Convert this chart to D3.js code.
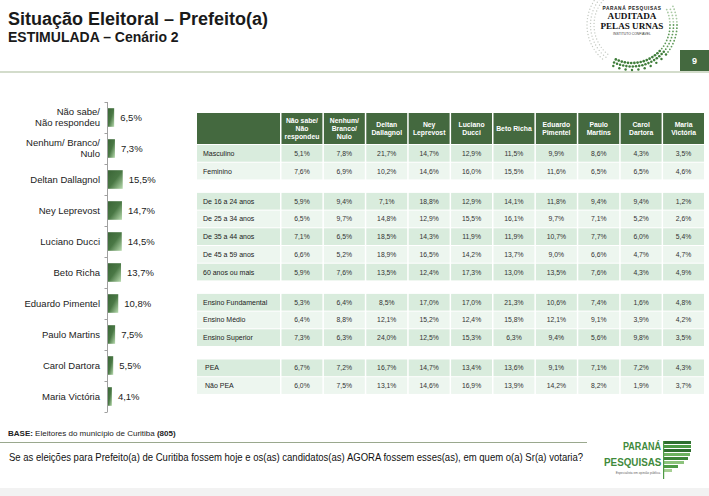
<!DOCTYPE html>
<html><head><meta charset="utf-8">
<script src="https://cdn.jsdelivr.net/npm/d3@7"></script>
<style>body{margin:0;background:#fff} svg{display:block;font-family:"Liberation Sans",Arial,sans-serif}</style>
</head><body><svg id="c" width="709" height="496"></svg>
<script>
// ---------- DATA ----------
const categories = ["Não sabe/\nNão respondeu","Nenhum/ Branco/\nNulo","Deltan Dallagnol","Ney Leprevost","Luciano Ducci","Beto Richa","Eduardo Pimentel","Paulo Martins","Carol Dartora","Maria Victória"];
const totals = [6.5,7.3,15.5,14.7,14.5,13.7,10.8,7.5,5.5,4.1];
const columns = ["Não sabe/\nNão\nrespondeu","Nenhum/\nBranco/\nNulo","Deltan\nDallagnol","Ney\nLeprevost","Luciano\nDucci","Beto Richa","Eduardo\nPimentel","Paulo\nMartins","Carol\nDartora","Maria\nVictória"];
const rowLabels = ["Masculino","Feminino","De 16 a 24 anos","De 25 a 34 anos","De 35 a 44 anos","De 45 a 59 anos","60 anos ou mais","Ensino Fundamental","Ensino Médio","Ensino Superior","PEA","Não PEA"];
const rowGroups = [0,0,1,1,1,1,1,2,2,2,3,3];
const rowValues = [
  [5.1,7.8,21.7,14.7,12.9,11.5,9.9,8.6,4.3,3.5],
  [7.6,6.9,10.2,14.6,16.0,15.5,11.6,6.5,6.5,4.6],
  [5.9,9.4,7.1,18.8,12.9,14.1,11.8,9.4,9.4,1.2],
  [6.5,9.7,14.8,12.9,15.5,16.1,9.7,7.1,5.2,2.6],
  [7.1,6.5,18.5,14.3,11.9,11.9,10.7,7.7,6.0,5.4],
  [6.6,5.2,18.9,16.5,14.2,13.7,9.0,6.6,4.7,4.7],
  [5.9,7.6,13.5,12.4,17.3,13.0,13.5,7.6,4.3,4.9],
  [5.3,6.4,8.5,17.0,17.0,21.3,10.6,7.4,1.6,4.8],
  [6.4,8.8,12.1,15.2,12.4,15.8,12.1,9.1,3.9,4.2],
  [7.3,6.3,24.0,12.5,15.3,6.3,9.4,5.6,9.8,3.5],
  [6.7,7.2,16.7,14.7,13.4,13.6,9.1,7.1,7.2,4.3],
  [6.0,7.5,13.1,14.6,16.9,13.9,14.2,8.2,1.9,3.7]
];
const title = "Situação Eleitoral – Prefeito(a)";
const subtitle = "ESTIMULADA – Cenário 2";
const pageNum = "9";
const question = "Se as eleições para Prefeito(a) de Curitiba fossem hoje e os(as) candidatos(as) AGORA fossem esses(as), em quem o(a) Sr(a) votaria?";

// ---------- SETUP ----------
const svg = d3.select("#c");
const green = "#44693f";
const fmt = v => d3.format(".1f")(v).replace(".", ",") + "%";

// fit a text horizontally to a width by scaling (keeps bounding box honest)
function fitText(sel, x0, y0, w) {
  const n = sel.node().getComputedTextLength();
  sel.attr("x",0).attr("y",0).attr("transform",`translate(${x0},${y0}) scale(${w/n},1)`);
}

const defs = svg.append("defs");
const lg = defs.append("linearGradient").attr("id","barGrad")
  .attr("x1","0").attr("y1","0").attr("x2","1").attr("y2","1");
lg.append("stop").attr("offset","0").attr("stop-color","#3a6536");
lg.append("stop").attr("offset","0.5").attr("stop-color","#4a7845");
lg.append("stop").attr("offset","1").attr("stop-color","#b9dcb0");

// ---------- HEADER ----------
svg.append("text").attr("x",8).attr("y",25).attr("font-size",18).attr("font-weight","bold").attr("fill","#1a1a1a").text(title);
svg.append("text").attr("x",8).attr("y",42).attr("font-size",14).attr("font-weight","bold").attr("fill","#1a1a1a").text(subtitle);

// top rule and page box
svg.append("rect").attr("x",0).attr("y",71).attr("width",709).attr("height",2).attr("fill","#d3dccb");
svg.append("rect").attr("x",680).attr("y",50).attr("width",29).attr("height",21).attr("fill",green);
svg.append("text").attr("x",694.5).attr("y",64).attr("text-anchor","middle").attr("font-size",9).attr("font-weight","bold").attr("fill","#fff").text(pageNum);

// dotted ring logo (decorative)
const lc = {x:632, y:25};
const ring = svg.append("g");
for (let r of [38, 41.5, 45]) {
  const n = Math.round(2*Math.PI*r/3.2);
  for (let k=0;k<n;k++){
    const a = k/n*360;
    if (a>300 && a<335) continue;
    if (a>118 && a<128) continue;
    let col, sz;
    if (a>=40 && a<=118) { col = "#3f7d3a"; sz = 1.35 - (r-38)*0.02; }
    else if (a>=128 && a<=300) { col = "#c4c9c2"; sz = 0.7; }
    else { col = a<40 ? "#5f9a58" : "#a9c9a3"; sz = 0.9; }
    if (a>=40 && a<=118 && r===45 && (k%2)) continue;
    ring.append("circle").attr("cx",lc.x+r*Math.cos(a*Math.PI/180)).attr("cy",lc.y+r*Math.sin(a*Math.PI/180)).attr("r",sz).attr("fill",col);
  }
}
const serif = "'Liberation Serif','Times New Roman',serif";
svg.append("text").attr("x",lc.x).attr("y",10.4).attr("text-anchor","middle").attr("font-size",4.8).attr("font-weight","bold").attr("fill","#222").attr("letter-spacing","0.6").text("PARANÁ PESQUISAS");
fitText(svg.append("text").attr("font-size",8.5).attr("font-family",serif).attr("font-weight","bold").attr("fill","#111").text("AUDITADA"), lc.x-24.5, 19.3, 49);
fitText(svg.append("text").attr("font-size",8.5).attr("font-family",serif).attr("font-weight","bold").attr("fill","#111").text("PELAS URNAS"), lc.x-31.5, 29, 63);
svg.append("text").attr("x",lc.x).attr("y",34.6).attr("text-anchor","middle").attr("font-size",3.4).attr("fill","#333").text("INSTITUTO CONFIÁVEL");

// ---------- LEFT BAR CHART ----------
const y = d3.scaleBand().domain(categories).range([102,412]).paddingInner(0.4).paddingOuter(0.2);
const x = d3.scaleLinear().domain([0,100]).range([108,203]);
const bars = svg.append("g");
const half = y.step()*y.paddingInner()/2;
const bounds = categories.map(c => y(c)-half).concat([412]);
bars.append("line").attr("x1",107.5).attr("x2",107.5).attr("y1",102).attr("y2",412).attr("stroke","#a0a0a0");
bars.selectAll(".tk").data(bounds).join("line").attr("x1",104.5).attr("x2",107.5)
  .attr("y1",d=>d+0.5).attr("y2",d=>d+0.5).attr("stroke","#a0a0a0");
bars.selectAll(".bar").data(categories).join("rect")
  .attr("x",x(0)).attr("y",c=>y(c)).attr("height",y.bandwidth())
  .attr("width",(c,i)=>x(totals[i])-x(0)).attr("fill","url(#barGrad)");
bars.selectAll(".val").data(categories).join("text")
  .attr("x",(c,i)=>x(totals[i])+6).attr("y",c=>y(c)+y.bandwidth()/2+3.3)
  .attr("font-size",9.5).attr("fill","#222").text((c,i)=>fmt(totals[i]));
bars.selectAll(".cat").data(categories).join("text")
  .attr("text-anchor","end").attr("font-size",9.5).attr("fill","#222")
  .each(function(c){
    const lines = c.split("\n");
    const cy = y(c)+y.bandwidth()/2;
    const t = d3.select(this);
    lines.forEach((l,i)=>{
      t.append("tspan").attr("x",100).attr("y",cy+3.3+(i-(lines.length-1)/2)*11).text(l);
    });
  });

// ---------- TABLE ----------
const tx = d3.scaleBand().domain(columns).range([281,705]);
const labX0 = 197, labX1 = 281;
const hTop = 113, hBot = 145, rowH = 17.7, gap = 12.5;
const rowY = i => hBot + i*rowH + rowGroups[i]*gap;
const tbl = svg.append("g");
tbl.append("rect").attr("x",labX0).attr("y",hTop).attr("width",labX1-labX0-1).attr("height",hBot-hTop-1).attr("fill",green);
tbl.selectAll(".hc").data(columns).join("rect")
  .attr("x",c=>tx(c)+0.5).attr("y",hTop).attr("width",tx.bandwidth()-1.5).attr("height",hBot-hTop-1).attr("fill",green);
tbl.selectAll(".ht").data(columns).join("text")
  .attr("text-anchor","middle").attr("font-size",6.8).attr("font-weight","bold").attr("fill","#fff")
  .each(function(c){
    const lines = c.split("\n"); const t = d3.select(this);
    const cx = tx(c)+tx.bandwidth()/2-0.25, cy = (hTop+hBot-1)/2;
    lines.forEach((l,i)=>t.append("tspan").attr("x",cx).attr("y",cy+2.4+(i-(lines.length-1)/2)*8.2).text(l));
  });
rowLabels.forEach((lab,i)=>{
  const yy = rowY(i);
  const within = i - rowGroups.indexOf(rowGroups[i]);
  const fill = within%2===0 ? "#d9ecdd" : "#edf6ef";
  const g = tbl.append("g");
  g.append("rect").attr("x",labX0).attr("y",yy).attr("width",labX1-labX0-1).attr("height",rowH-1).attr("fill",fill);
  g.selectAll("rect.v").data(columns).join("rect").attr("class","v")
    .attr("x",c=>tx(c)+0.5).attr("y",yy).attr("width",tx.bandwidth()-1.5).attr("height",rowH-1).attr("fill",fill);
  g.append("text").attr("x", rowGroups[i]===3 ? 205 : 203).attr("y",yy+rowH/2+2).attr("font-size",7).attr("fill","#222").text(lab);
  g.selectAll("text.v").data(columns).join("text").attr("class","v")
    .attr("x",c=>tx(c)+tx.bandwidth()/2-0.25).attr("y",yy+rowH/2+2).attr("text-anchor","middle")
    .attr("font-size",6.8).attr("fill","#333").text((c,j)=>fmt(rowValues[i][j]));
});

// ---------- FOOTER ----------
const base = svg.append("text").attr("x",8).attr("y",436).attr("font-size",8).attr("fill","#222");
base.append("tspan").attr("font-weight","bold").text("BASE:");
base.append("tspan").text(" Eleitores do município de Curitiba ");
base.append("tspan").attr("font-weight","bold").text("(805)");
svg.append("line").attr("x1",0).attr("x2",587).attr("y1",442.5).attr("y2",442.5).attr("stroke","#9aa88e");
fitText(svg.append("text").attr("font-size",11).attr("fill","#111").text(question), 9, 461, 575);
svg.append("rect").attr("x",0).attr("y",488).attr("width",709).attr("height",8).attr("fill","#f2f2f2");

// Paraná Pesquisas logo
const pg = "#3f8a3c";
fitText(svg.append("text").attr("font-size",10.5).attr("font-weight","bold").attr("fill",pg).text("PARANÁ"), 623, 449.5, 38);
fitText(svg.append("text").attr("font-size",10.5).attr("font-weight","bold").attr("fill",pg).text("PESQUISAS"), 604, 466, 57.5);
svg.append("text").attr("x",661).attr("y",473.5).attr("text-anchor","end").attr("font-size",3.2).attr("fill","#666").text("Especialista em opinião pública.");
const stripes = [[441,27,"#2f6e2f"],[445,27,"#4d9a45"],[449,27,"#2f6e2f"],[453,26,"#6db25f"],[457,24,"#3d8438"],[461,20,"#8cc37c"],[465,14,"#4d9a45"],[469,8,"#a6cf94"]];
stripes.forEach(s=>svg.append("rect").attr("x",664).attr("y",s[0]).attr("width",s[1]).attr("height",3).attr("fill",s[2]));
svg.append("rect").attr("x",663).attr("y",441).attr("width",1.2).attr("height",38).attr("fill","#4d9a45");
</script></body></html>
